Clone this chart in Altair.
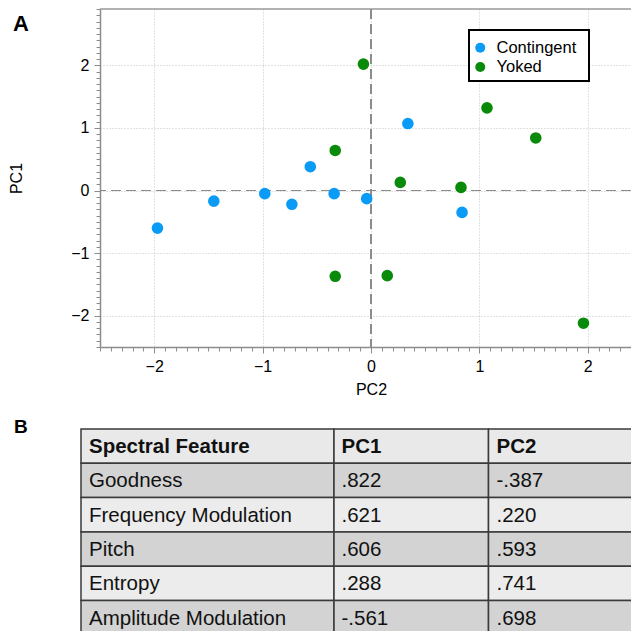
import altair as alt
import pandas as pd
import numpy as np

# ---------------- data ----------------
groups = ["Contingent", "Yoked"]
cont_pc2 = [-1.97, -1.45, -0.98, -0.73, -0.56, -0.34, -0.04, 0.34, 0.84]
cont_pc1 = [-0.60, -0.17, -0.05, -0.22, 0.38, -0.05, -0.13, 1.07, -0.35]
yoked_pc2 = [-0.07, -0.33, 0.27, 0.83, 1.07, 1.52, -0.33, 0.15, 1.96]
yoked_pc1 = [2.02, 0.64, 0.13, 0.05, 1.32, 0.84, -1.37, -1.36, -2.12]

x_ticks = [-2, -1, 0, 1, 2]
y_ticks = [-2, -1, 0, 1, 2]

table_header = ["Spectral Feature", "PC1", "PC2"]
features = ["Goodness", "Frequency Modulation", "Pitch", "Entropy", "Amplitude Modulation"]
loading_pc1 = [".822", ".621", ".606", ".288", "-.561"]
loading_pc2 = ["-.387", ".220", ".593", ".741", ".698"]

# ---------------- layout / style ----------------
FONT = "Liberation Sans"
W_FULL, W, H = 542, 531, 338
X_DOM = [-2.5, 2.5]
Y_DOM = [-2.5, 2.9]
x_minor_vals = [round(v, 1) for v in np.arange(-2.5, 2.5001, 0.1)]
y_minor_vals = [round(v, 1) for v in np.arange(-2.5, 2.9001, 0.1)]
AX = "#8c8c8c"

pts = pd.DataFrame({
    "pc2": cont_pc2 + yoked_pc2,
    "pc1": cont_pc1 + yoked_pc1,
    "group": [groups[0]] * len(cont_pc2) + [groups[1]] * len(yoked_pc2),
})

xs = alt.Scale(domain=X_DOM, nice=False, zero=False, range=[0, W_FULL])
ys = alt.Scale(domain=Y_DOM, nice=False, zero=False)

common = dict(
    grid=True, gridColor="#c4c4c4", gridDash=[1, 2], gridWidth=1,
    domainColor=AX, domainWidth=1.5, tickColor=AX, tickWidth=1, tickSize=6,
    labelFont=FONT, labelFontSize=16, labelColor="black", labelPadding=5,
    titleFont=FONT, titleFontSize=16, titleFontWeight="normal", titleColor="black",
    labelFlush=False, labelOverlap=False, format="d",
)
x_major = alt.Axis(values=x_ticks, title="PC2", titlePadding=7, orient="bottom", **common)
y_major = alt.Axis(values=y_ticks, title="PC1", titlePadding=46, orient="left", **common)

minor_common = dict(labels=False, title=None, grid=False, domain=False,
                    tickColor=AX, tickWidth=1, tickSize=4)
x_minor = alt.Axis(values=x_minor_vals, orient="bottom", **minor_common)
y_minor = alt.Axis(values=y_minor_vals, orient="left", **minor_common)

one = alt.Data(values=[{}])
base = alt.Chart(pts)

top_border = alt.Chart(one).mark_rule(color="#999999", strokeWidth=1.5).encode(
    x=alt.value(0), x2=alt.value(W_FULL), y=alt.value(0)
)
zero_v = base.mark_rule(color="#8c8c8c", strokeWidth=1.1, strokeDash=[10, 5]).encode(
    x=alt.XDatum(0, scale=xs, axis=None)
)
zero_h = base.mark_rule(color="#8c8c8c", strokeWidth=1.1, strokeDash=[10, 5]).encode(
    y=alt.YDatum(0, scale=ys, axis=None)
)

minor_layer = base.mark_circle(opacity=0).encode(
    x=alt.X("pc2:Q", scale=xs, axis=x_minor),
    y=alt.Y("pc1:Q", scale=ys, axis=y_minor),
)

points = base.mark_circle(size=135, opacity=1).encode(
    x=alt.X("pc2:Q", scale=xs, axis=x_major),
    y=alt.Y("pc1:Q", scale=ys, axis=y_major),
    color=alt.Color(
        "group:N",
        scale=alt.Scale(domain=groups, range=["#0a9bf7", "#0a8a0a"]),
        legend=alt.Legend(
            title=None, orient="none", legendX=372, legendY=30.5,
            symbolType="circle", symbolSize=100, symbolStrokeWidth=0,
            labelFont=FONT, labelFontSize=16.5, labelColor="black",
            labelOffset=8, rowPadding=2.2, padding=0, labelLimit=0,
        ),
    ),
)

legend_box = alt.Chart(one).mark_rect(
    fill="white", stroke="black", strokeWidth=2
).encode(x=alt.value(369), x2=alt.value(489), y=alt.value(21), y2=alt.value(72))

scatter = alt.layer(top_border, zero_v, zero_h, minor_layer, points, legend_box).resolve_axis(
    x="independent", y="independent"
)

# ---------------- table ----------------
n_rows = len(features) + 1
tbl = pd.DataFrame({
    "row": list(range(n_rows)),
    "c0": [table_header[0]] + features,
    "c1": [table_header[1]] + loading_pc1,
    "c2": [table_header[2]] + loading_pc2,
    "shade": ["head"] + ["dark" if i % 2 == 0 else "light" for i in range(len(features))],
    "kind": ["head"] + ["body"] * len(features),
})

ROW_H = 34.3
TOP = 420
row_scale = alt.Scale(domain=list(range(n_rows)), range=[TOP, TOP + n_rows * ROW_H],
                      paddingInner=0, paddingOuter=0)
ty = alt.Y("row:O", scale=row_scale, axis=None)
col_edges = [-19, 234, 388.5, 560]
text_x = [-11, 241.5, 396.5]

tbase = alt.Chart(tbl)
rects = []
texts = []
for k in range(3):
    rects.append(
        tbase.mark_rect(stroke="#3a3a3a", strokeWidth=1.5).encode(
            y=ty,
            x=alt.value(col_edges[k]),
            x2=alt.value(col_edges[k + 1]),
            fill=alt.Fill("shade:N",
                          scale=alt.Scale(domain=["head", "dark", "light"],
                                          range=["#e9e9e9", "#d3d3d3", "#ececec"]),
                          legend=None),
        )
    )
    for kind, weight in [("head", "bold"), ("body", "normal")]:
        texts.append(
            tbase.mark_text(align="left", baseline="middle", font=FONT, fontSize=20.5,
                            fontWeight=weight, color="#111111", dy=1)
            .encode(y=ty, x=alt.value(text_x[k]), text=f"c{k}:N")
            .transform_filter(alt.datum.kind == kind)
        )
table = alt.layer(*rects, *texts)

# ---------------- panel labels ----------------
lab_a = alt.Chart(one).mark_text(text="A", align="left", baseline="alphabetic", font=FONT,
                                  fontSize=22, fontWeight="bold", color="black").encode(
    x=alt.value(-87), y=alt.value(22))
lab_b = alt.Chart(one).mark_text(text="B", align="left", baseline="alphabetic", font=FONT,
                                  fontSize=19, fontWeight="bold", color="black").encode(
    x=alt.value(-86), y=alt.value(424))

chart = (
    alt.layer(scatter, table, lab_a, lab_b)
    .resolve_scale(y="independent")
    .properties(
        width=W, height=H,
        autosize=alt.AutoSizeParams(type="none"),
        padding={"left": 92, "top": 1, "right": 0, "bottom": 284},
        background="white",
    )
    .configure_view(strokeWidth=0)
)

chart.save("out.html", embed_options={"renderer": "svg", "actions": False})
